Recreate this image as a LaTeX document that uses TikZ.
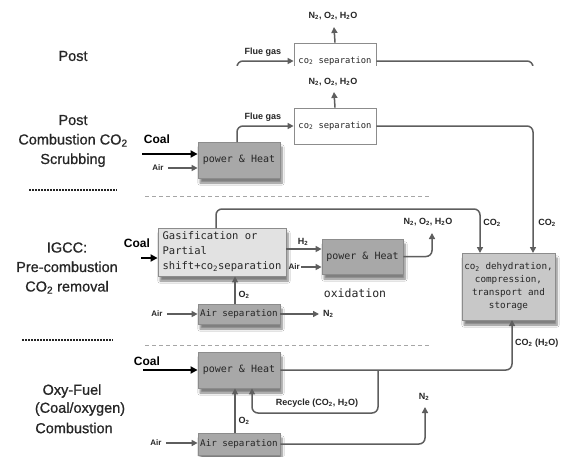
\documentclass[tikz,border=0pt]{standalone}
\usepackage{fontspec}
\setmainfont{Liberation Sans}
\newfontfamily\monof{DejaVu Sans Mono}
\newfontfamily\labf{Liberation Sans}[FakeBold=0.8]
\usetikzlibrary{arrows.meta,shadows.blur}
\definecolor{ln}{HTML}{5E5E5E}
\definecolor{bd}{HTML}{8C8C8C}
\definecolor{dk}{HTML}{A8A8A8}
\definecolor{lt}{HTML}{E2E2E2}
\definecolor{md}{HTML}{C8C8C8}
\tikzset{
 conn/.style={draw=ln, line width=1.5pt, rounded corners=6pt},
 arr/.style={conn, -{Triangle[length=6pt,width=6pt]}},
 coalarr/.style={draw=black, line width=1.8pt, -{Triangle[length=7pt,width=7pt]}},
 boxbase/.style={draw=bd, line width=0.8pt, inner sep=0pt, align=center, text=black!85},
 shad/.style={blur shadow={shadow xshift=2pt, shadow yshift=-5pt, shadow blur steps=6, shadow opacity=50}},
 phbox/.style={boxbase, fill=dk, minimum width=82pt, minimum height=36pt, font=\monof\fontsize{10}{12}\selectfont, shad},
 sepbox/.style={boxbase, fill=white, minimum width=82pt, minimum height=36pt, font=\monof\fontsize{8.8}{10}\selectfont},
 asbox/.style={boxbase, fill=dk, minimum width=82pt, minimum height=20pt, font=\monof\fontsize{9.2}{10}\selectfont, shad},
 gbox/.style={boxbase, fill=lt, minimum width=128pt, minimum height=48pt, align=left, font=\monof\fontsize{10.5}{15}\selectfont, shad},
 stbox/.style={boxbase, fill=md, minimum width=93pt, minimum height=67pt, font=\monof\fontsize{9.3}{12.7}\selectfont, shad},
 lab/.style={font=\labf\fontsize{14.5}{19.5}\selectfont, text=black!85, inner sep=0pt, align=center},
 sm/.style={font=\bfseries\fontsize{9}{10}\selectfont, text=black!85, inner sep=0pt},
 coallab/.style={font=\bfseries\fontsize{12}{13}\selectfont, inner sep=0pt},
 airlab/.style={font=\bfseries\fontsize{8}{9}\selectfont, text=black!85, inner sep=0pt},
 blackdash/.style={draw=black!85, line width=1.8pt, dash pattern=on 2.2pt off 0.8pt},
 graydash/.style={draw=gray!70, line width=1pt, dash pattern=on 4pt off 3pt},
}
\begin{document}
\begin{tikzpicture}[x=1pt,y=-1pt]
\useasboundingbox[fill=white] (0,0) rectangle (568,456);

% ---- top clipped fragment ----
\node[lab] (post0) at (73,56) {Post};
\node[sm] (n0l) at (333,16) {N\textsubscript{2}, O\textsubscript{2}, H\textsubscript{2}O};
\coordinate (n0a) at (334,27);
\begin{scope}
\clip (0,0) rectangle (568,65);
\node[sepbox] (sep0) at (335,61) {co\textsubscript{2} separation};
\coordinate (f0) at (237,90);
\coordinate (e0) at (533,100);
\draw[arr] (f0) |- (sep0.west);
\draw[conn] (sep0.east) -| (e0);
\end{scope}
\draw[arr] (sep0.north) -- (n0a);
\node[sm] (fg0) at (263,52) {Flue gas};

% ---- Post combustion ----
\node[lab] (lbl1) at (73,141) {Post\\Combustion CO\textsubscript{2}\\Scrubbing};
\node[sepbox] (sep1) at (335,126) {co\textsubscript{2} separation};
\node[sm] (n1l) at (333,82) {N\textsubscript{2}, O\textsubscript{2}, H\textsubscript{2}O};
\coordinate (n1a) at (334,92);
\draw[arr] (sep1.north) -- (n1a);
\node[phbox] (ph1) at (239,160) {power \& Heat};
\coordinate (ph1t) at (237,142);
\draw[arr] (ph1t) |- (sep1.west);
\node[sm] (fg1) at (263,117) {Flue gas};
\node[coallab] (coal1) at (157,139) {Coal};
\coordinate (c1s) at (142,154);
\draw[coalarr] (c1s) -- (ph1.west |- c1s);
\node[airlab] (air1) at (158,168) {Air};
\draw[arr] ([xshift=4pt]air1.east) -- (ph1.west |- air1);
\coordinate (s1) at (533,253);
\draw[arr] (sep1.east) -| (s1);
\node[sm] (co2b) at (547,223) {CO\textsubscript{2}};

\draw[blackdash] (29,190) -- (117,190);
\draw[graydash] (145,196) -- (431,196);

% ---- IGCC ----
\node[lab] (lbl2) at (67,268) {IGCC:\\Pre-combustion\\CO\textsubscript{2} removal};
\node[gbox] (gas) at (222,252) {Gasification or\\Partial\\shift+co\textsubscript{2}separation};
\coordinate (g1) at (216,228);
\coordinate (g2) at (480,209);
\coordinate (s2) at (480,253);
\draw[arr] (g1) |- (g2) -- (s2);
\node[sm] (co2a) at (492,223) {CO\textsubscript{2}};
\node[coallab] (coal2) at (137,243) {Coal};
\coordinate (c2s) at (141,258);
\draw[coalarr] (c2s) -- (gas.west |- c2s);
\node[phbox, minimum width=81pt, minimum height=35pt] (ph2) at (362.5,256.5) {power \& Heat};
\coordinate (h2s) at (286,249);
\draw[arr] (h2s) -- (ph2.west |- h2s);
\node[sm] (h2l) at (303,242) {H\textsubscript{2}};
\node[airlab, anchor=east] (air2) at (300,267) {Air};
\draw[arr] ([xshift=1pt]air2.east) -- (ph2.west |- air2);
\coordinate (n2e) at (432,233);
\draw[arr] (ph2.east) -| (n2e);
\node[sm] (n2l) at (428,222) {N\textsubscript{2}, O\textsubscript{2}, H\textsubscript{2}O};
\node[font=\monof\fontsize{11.5}{13}\selectfont, text=black!85, inner sep=0pt] (oxl) at (355,293) {oxidation};
\node[asbox] (as1) at (239,314) {Air separation};
\coordinate (o2a) at (235,304);
\draw[arr] (o2a) -- (gas.south -| o2a);
\node[sm] (o2l) at (244,295) {O\textsubscript{2}};
\node[airlab] (air3) at (157,314) {Air};
\draw[arr] ([xshift=4pt]air3.east) -- (as1.west);
\node[sm, anchor=west] (n2b) at (323,314) {N\textsubscript{2}};
\draw[arr] (as1.east) -- ([xshift=-4pt]n2b.west);

% ---- storage ----
\node[stbox] (st) at (508.5,286.5) {co\textsubscript{2} dehydration,\\compression,\\transport and\\storage};

\draw[blackdash] (22,340) -- (113,340);
\draw[graydash] (145,345) -- (431,345);

% ---- Oxy-fuel ----
\node[lab] (ox1) at (72,391) {Oxy-Fuel};
\node[lab] (ox2) at (80,409) {(Coal/oxygen)};
\node[lab] (ox3) at (74,428) {Combustion};
\node[phbox] (ph3) at (239,370) {power \& Heat};
\node[coallab] (coal3) at (147,361) {Coal};
\coordinate (c3s) at (143,370);
\draw[coalarr] (c3s) -- (ph3.west |- c3s);
\coordinate (s3) at (512,320);
\draw[arr] (ph3.east) -| (s3);
\node[sm, anchor=west] (co2h) at (515,343) {CO\textsubscript{2} (H\textsubscript{2}O)};
\coordinate (r1) at (378,370);
\coordinate (r2) at (252,413);
\draw[arr] (r1) |- (r2) -- (ph3.south -| r2);
\node[sm] (rcl) at (317,403) {Recycle (CO\textsubscript{2}, H\textsubscript{2}O)};
\node[asbox, minimum height=22pt] (as2) at (239,444) {Air separation};
\coordinate (o2b) at (235,433);
\draw[arr] (o2b) -- (ph3.south -| o2b);
\node[sm] (o2l2) at (244,421) {O\textsubscript{2}};
\node[airlab] (air4) at (156,443) {Air};
\draw[arr] ([xshift=4pt]air4.east) -- (as2.west |- air4);
\coordinate (n2c) at (425,407);
\draw[arr] (as2.east) -| (n2c);
\node[sm] (n2cl) at (424,397) {N\textsubscript{2}};
\end{tikzpicture}
\end{document}
